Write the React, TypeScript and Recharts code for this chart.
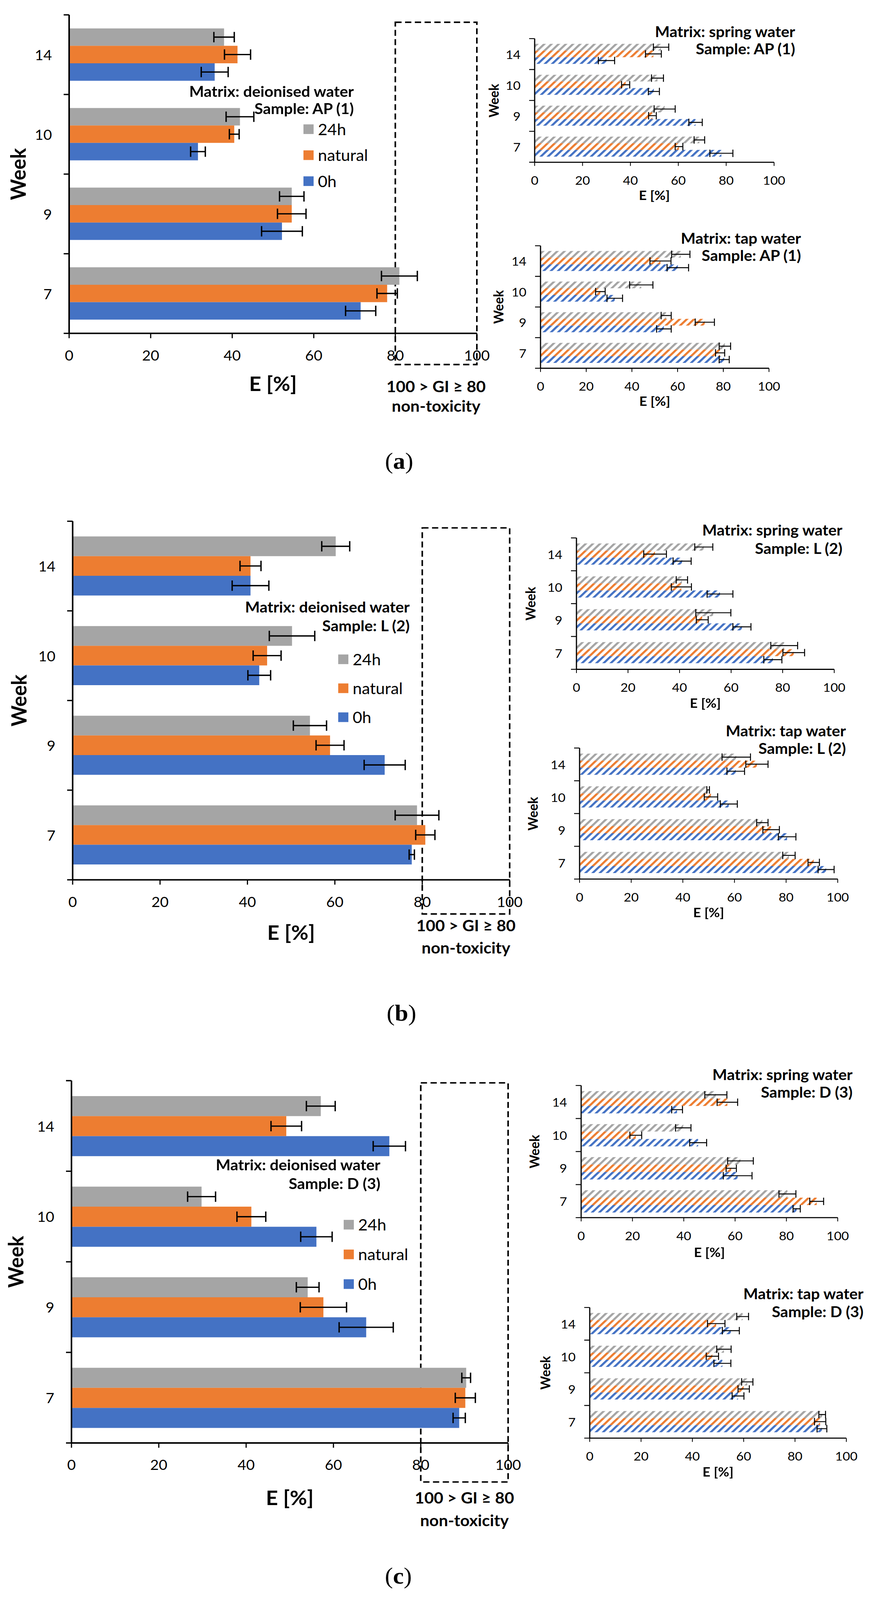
import React from 'react'
import { BarChart, Bar, XAxis, YAxis, ErrorBar, ReferenceArea, Legend } from 'recharts'

const WEEKS = ['14', '10', '9', '7']
const E_TICKS = [0, 20, 40, 60, 80, 100]
const SERIES_NAMES = ['24h', 'natural', '0h']

// (a) AP (1) — values per week 14, 10, 9, 7
const apDeion24 = [38, 41.9, 54.6, 81]
const apDeion24Err = [2.5, 3.4, 3, 4.4]
const apDeionNat = [41.3, 40.5, 54.6, 78]
const apDeionNatErr = [3.2, 1.2, 3.5, 2.5]
const apDeion0 = [35.7, 31.6, 52.2, 71.5]
const apDeion0Err = [3.3, 1.8, 5, 3.7]

const apSpring24 = [52.8, 51.3, 54.3, 68.8]
const apSpring24Err = [3.2, 2.5, 4.4, 2.2]
const apSpringNat = [49.6, 38, 49.2, 60.3]
const apSpringNatErr = [3.3, 1.7, 1.6, 1.6]
const apSpring0 = [30, 49.8, 67.2, 78]
const apSpring0Err = [3.4, 2.3, 2.8, 4.8]

const apTap24 = [61.4, 44.1, 55, 80.7]
const apTap24Err = [4, 5.1, 2.2, 2.5]
const apTapNat = [52.5, 26.2, 71.9, 78.6]
const apTapNatErr = [4.6, 2.1, 4.2, 2]
const apTap0 = [60.1, 32.5, 54, 80.4]
const apTap0Err = [4.7, 3.4, 3.2, 2.2]

// (b) L (2)
const lDeion24 = [60.2, 50.2, 54.3, 78.8]
const lDeion24Err = [3.2, 5.2, 3.8, 5]
const lDeionNat = [40.7, 44.5, 58.9, 80.7]
const lDeionNatErr = [2.4, 3.2, 3.2, 2.2]
const lDeion0 = [40.7, 42.7, 71.4, 77.6]
const lDeion0Err = [4.2, 2.6, 4.7, 0.6]

const lSpring24 = [49.4, 40.9, 53.1, 80.6]
const lSpring24Err = [3.5, 2.2, 6.8, 5.2]
const lSpringNat = [30.5, 40.7, 48.8, 84.3]
const lSpringNatErr = [4.4, 3.9, 2.3, 4.2]
const lSpring0 = [41, 55.7, 64.2, 76.2]
const lSpring0Err = [3.5, 5, 3.5, 3.5]

const lTap24 = [60.7, 49.8, 70.8, 81.1]
const lTap24Err = [5.5, 0.5, 2.2, 2.4]
const lTapNat = [68.7, 50.9, 74.2, 90.7]
const lTapNatErr = [4.3, 2.6, 3.2, 2.2]
const lTap0 = [60.5, 57.8, 80.4, 95.5]
const lTap0Err = [3.4, 3.3, 3.4, 3.1]

// (c) D (3)
const dDeion24 = [57.1, 29.8, 54.1, 90.4]
const dDeion24Err = [3.3, 3.2, 2.6, 1]
const dDeionNat = [49.2, 41.2, 57.7, 90.2]
const dDeionNatErr = [3.5, 3.3, 5.3, 2.3]
const dDeion0 = [72.8, 56.1, 67.5, 88.8]
const dDeion0Err = [3.7, 3.6, 6.2, 1.4]

const dSpring24 = [52.5, 39.8, 62.1, 80.4]
const dSpring24Err = [4.3, 3, 5, 3.3]
const dSpringNat = [57, 21.3, 58.5, 91.8]
const dSpringNatErr = [4, 2.3, 2, 2.7]
const dSpring0 = [37.4, 45.6, 61, 84]
const dSpring0Err = [2.1, 3.3, 5.6, 1.4]

const dTap24 = [59.6, 52.3, 61.4, 90.6]
const dTap24Err = [2.3, 2.8, 2.2, 1.3]
const dTapNat = [49.3, 47.8, 60, 89.8]
const dTapNatErr = [3.4, 2.4, 2.2, 2.2]
const dTap0 = [55, 51.7, 57.8, 90.5]
const dTap0Err = [3.3, 3.3, 2.3, 1.9]

const GRAY = '#A5A5A5'
const ORANGE = '#ED7D31'
const BLUE = '#4472C4'
const SANS = 'Lato, "Open Sans", sans-serif'
const PAGE_W = 2243
const PAGE_H = 4310

type Rect = { x0: number; x1: number; y0: number; y1: number }

function toRows(h24: number[], h24e: number[], nat: number[], nate: number[], h0: number[], h0e: number[]) {
  return WEEKS.map((week, i) => ({
    week,
    h24: h24[i], h24e: h24e[i],
    nat: nat[i], nate: nate[i],
    h0: h0[i], h0e: h0e[i],
  }))
}

type ChartProps = {
  rect: Rect
  rows: ReturnType<typeof toRows>
  big?: boolean
  box?: { top: number; bottom: number }
  legend?: { x: number; y: number; step: number }
}

function WeekChart({ rect, rows, big, box, legend }: ChartProps) {
  const AXW = big ? 140 : 110
  const MT = 20
  const MR = big ? 50 : 45
  const XH = big ? 100 : 80
  const MB = 10
  const left = rect.x0 - AXW
  const top = rect.y0 - MT
  const width = rect.x1 - rect.x0 + AXW + MR
  const height = rect.y1 - rect.y0 + MT + XH + MB
  const band = (rect.y1 - rect.y0) / WEEKS.length
  const tickLen = 14
  const labelGap = big ? 30 : 22
  const axisW = big ? 4 : 3
  const fontSize = big ? 38 : 33
  const fills = big
    ? [GRAY, ORANGE, BLUE]
    : ['url(#hatch-gray)', 'url(#hatch-orange)', 'url(#hatch-blue)']
  const capW = big ? 14 : 10
  const errW = big ? 3.5 : 2.5

  const yTick = (p: any) => {
    const ax = AXW
    const lines = [p.y - band / 2]
    if (p.index === WEEKS.length - 1) lines.push(p.y + band / 2)
    return (
      <g>
        {lines.map((ly, k) => (
          <line key={k} x1={ax - tickLen} x2={ax} y1={ly} y2={ly} stroke="#000" strokeWidth={axisW - 0.5} />
        ))}
        <text x={ax - tickLen - labelGap} y={p.y} textAnchor="end" dominantBaseline="central"
          fontSize={fontSize} fontFamily={SANS} fill="#000">
          {p.payload.value}
        </text>
      </g>
    )
  }

  const legendContent = (props: any) => {
    const items = [...(props.payload || [])].sort(
      (a: any, b: any) => SERIES_NAMES.indexOf(a.value) - SERIES_NAMES.indexOf(b.value))
    return (
      <div style={{ fontFamily: SANS, fontSize: 42, color: '#000' }}>
        {items.map((it: any) => (
          <div key={it.value} style={{ display: 'flex', alignItems: 'center', height: legend!.step }}>
            <span style={{ display: 'inline-block', width: 26, height: 26, background: it.color, marginRight: 11 }} />
            <span>{it.value}</span>
          </div>
        ))}
      </div>
    )
  }

  return (
    <div style={{ position: 'absolute', left, top }}>
      <BarChart layout="vertical" width={width} height={height} data={rows}
        margin={{ top: MT, right: MR, bottom: MB, left: 0 }} barCategoryGap="17%" barGap={0}>
        <XAxis type="number" domain={[0, 100]} ticks={E_TICKS} interval={0} height={XH}
          tickSize={big ? 13 : 10} tickMargin={big ? 33 : 27}
          axisLine={{ stroke: '#000', strokeWidth: axisW }}
          tickLine={{ stroke: '#000', strokeWidth: axisW - 1 }}
          tick={{ fill: '#000', fontSize, fontFamily: SANS }} />
        <YAxis type="category" dataKey="week" width={AXW} interval={0}
          tickSize={tickLen} tickMargin={labelGap} tickLine={false}
          axisLine={{ stroke: '#000', strokeWidth: axisW }} tick={yTick} />
        <Bar dataKey="h24" name="24h" fill={fills[0]} isAnimationActive={false}>
          <ErrorBar dataKey="h24e" direction="x" width={capW} stroke="#000" strokeWidth={errW} />
        </Bar>
        <Bar dataKey="nat" name="natural" fill={fills[1]} isAnimationActive={false}>
          <ErrorBar dataKey="nate" direction="x" width={capW} stroke="#000" strokeWidth={errW} />
        </Bar>
        <Bar dataKey="h0" name="0h" fill={fills[2]} isAnimationActive={false}>
          <ErrorBar dataKey="h0e" direction="x" width={capW} stroke="#000" strokeWidth={errW} />
        </Bar>
        {box && (
          <ReferenceArea x1={80} x2={100} ifOverflow="visible"
            shape={(p: any) => (
              <rect x={p.x} y={p.y + (box.top - rect.y0)} width={p.width}
                height={p.height + (box.bottom - rect.y1) - (box.top - rect.y0)}
                fill="none" stroke="#000" strokeWidth={4} strokeDasharray="16 9" />
            )} />
        )}
        {legend && (
          <Legend layout="vertical" align="center" verticalAlign="middle" content={legendContent}
            wrapperStyle={{ left: legend.x - left, top: legend.y - top, width: 320, height: 'auto' }} />
        )}
      </BarChart>
    </div>
  )
}

function RightText({ right, y, size, children }: { right: number; y: number; size: number; children: React.ReactNode }) {
  return (
    <div style={{ position: 'absolute', left: right - 1000, width: 1000, top: y - size * 0.6, lineHeight: `${size * 1.2}px`,
      textAlign: 'right', fontFamily: SANS, fontWeight: 700, fontSize: size, whiteSpace: 'nowrap', color: '#000' }}>
      {children}
    </div>
  )
}

function CenterText({ x, y, size, bold = true, family = SANS, children }: { x: number; y: number; size: number; bold?: boolean; family?: string; children: React.ReactNode }) {
  return (
    <div style={{ position: 'absolute', left: x - 500, width: 1000, top: y - size * 0.6, lineHeight: `${size * 1.2}px`,
      textAlign: 'center', fontFamily: family, fontWeight: bold ? 700 : 400, fontSize: size, whiteSpace: 'nowrap', color: '#000' }}>
      {children}
    </div>
  )
}

function VText({ x, y, size, children }: { x: number; y: number; size: number; children: React.ReactNode }) {
  return (
    <div style={{ position: 'absolute', left: x, top: y, transform: 'translate(-50%, -50%) rotate(-90deg)',
      fontFamily: SANS, fontWeight: 700, fontSize: size, lineHeight: 1, whiteSpace: 'nowrap', color: '#000' }}>
      {children}
    </div>
  )
}

type BigCfg = {
  rect: Rect; rows: ReturnType<typeof toRows>; box: { top: number; bottom: number }
  legend: { x: number; y: number; step: number }; sample: string
  titleRight: number; titleY: [number, number]; weekX: number; eY: number; giY: [number, number]
  tag: string; tagX: number; tagY: number
}

function BigPanel(c: BigCfg) {
  const cx = (c.rect.x0 + c.rect.x1) / 2
  const boxCx = c.rect.x0 + (c.rect.x1 - c.rect.x0) * 0.9
  return (
    <>
      <WeekChart rect={c.rect} rows={c.rows} big box={c.box} legend={c.legend} />
      <RightText right={c.titleRight} y={c.titleY[0]} size={40}>Matrix: deionised water</RightText>
      <RightText right={c.titleRight} y={c.titleY[1]} size={40}>{`Sample: ${c.sample}`}</RightText>
      <VText x={c.weekX} y={(c.rect.y0 + c.rect.y1) / 2} size={54}>Week</VText>
      <CenterText x={cx} y={c.eY} size={54}>E [%]</CenterText>
      <CenterText x={boxCx} y={c.giY[0]} size={42}>100 &gt; GI ≥ 80</CenterText>
      <CenterText x={boxCx} y={c.giY[1]} size={42}>non-toxicity</CenterText>
      <CenterText x={c.tagX} y={c.tagY} size={62} bold={false} family='"Liberation Serif", "DejaVu Serif", serif'>
        (<b>{c.tag}</b>)
      </CenterText>
    </>
  )
}

type SmallCfg = {
  rect: Rect; rows: ReturnType<typeof toRows>; matrix: string; sample: string
  titleRight: number; titleY: [number, number]; weekX: number; eY: number
}

function SmallPanel(c: SmallCfg) {
  return (
    <>
      <WeekChart rect={c.rect} rows={c.rows} />
      <RightText right={c.titleRight} y={c.titleY[0]} size={40}>{`Matrix: ${c.matrix}`}</RightText>
      <RightText right={c.titleRight} y={c.titleY[1]} size={40}>{`Sample: ${c.sample}`}</RightText>
      <VText x={c.weekX} y={(c.rect.y0 + c.rect.y1) / 2} size={35}>Week</VText>
      <CenterText x={(c.rect.x0 + c.rect.x1) / 2} y={c.eY} size={35}>E [%]</CenterText>
    </>
  )
}

function Hatch({ id, color }: { id: string; color: string }) {
  return (
    <pattern id={id} patternUnits="userSpaceOnUse" width={13} height={13} patternTransform="rotate(45)">
      <rect x={0} y={0} width={5.5} height={13} fill={color} />
    </pattern>
  )
}

export default function App() {
  // fit the figure into the visible window height if it is shorter than the figure
  const vh = typeof window !== 'undefined' && window.innerHeight > 0 ? window.innerHeight : PAGE_H
  const sy = Math.min(1, vh / PAGE_H)
  return (
    <div style={{ position: 'absolute', left: 0, top: 0, width: PAGE_W, height: PAGE_H * sy, overflow: 'hidden', background: '#fff' }}>
      <div style={{ position: 'absolute', left: 0, top: 0, width: PAGE_W, height: PAGE_H, background: '#fff',
        transform: `scale(1, ${sy})`, transformOrigin: '0 0' }}>
        <svg width={0} height={0} style={{ position: 'absolute' }}>
          <defs>
            <Hatch id="hatch-gray" color={GRAY} />
            <Hatch id="hatch-orange" color={ORANGE} />
            <Hatch id="hatch-blue" color={BLUE} />
          </defs>
        </svg>

        <BigPanel rect={{ x0: 177, x1: 1221, y0: 40, y1: 898 }}
          rows={toRows(apDeion24, apDeion24Err, apDeionNat, apDeionNatErr, apDeion0, apDeion0Err)}
          box={{ top: 60, bottom: 982 }} legend={{ x: 777, y: 313, step: 70 }} sample="AP (1)"
          titleRight={906} titleY={[246, 292]} weekX={46} eY={1033} giY={[1040, 1093]}
          tag="a" tagX={1022} tagY={1242} />
        <SmallPanel rect={{ x0: 1369, x1: 1982, y0: 104, y1: 437 }}
          rows={toRows(apSpring24, apSpring24Err, apSpringNat, apSpringNatErr, apSpring0, apSpring0Err)}
          matrix="spring water" sample="AP (1)" titleRight={2036} titleY={[85, 131]} weekX={1263} eY={525} />
        <SmallPanel rect={{ x0: 1384, x1: 1969, y0: 662, y1: 992 }}
          rows={toRows(apTap24, apTap24Err, apTapNat, apTapNatErr, apTap0, apTap0Err)}
          matrix="tap water" sample="AP (1)" titleRight={2051} titleY={[642, 688]} weekX={1275} eY={1079} />

        <BigPanel rect={{ x0: 186, x1: 1305, y0: 1404, y1: 2370 }}
          rows={toRows(lDeion24, lDeion24Err, lDeionNat, lDeionNatErr, lDeion0, lDeion0Err)}
          box={{ top: 1422, bottom: 2462 }} legend={{ x: 866, y: 1737, step: 78 }} sample="L (2)"
          titleRight={1049} titleY={[1635, 1685]} weekX={48} eY={2512} giY={[2493, 2553]}
          tag="b" tagX={1028} tagY={2728} />
        <SmallPanel rect={{ x0: 1476, x1: 2136, y0: 1449, y1: 1803 }}
          rows={toRows(lSpring24, lSpring24Err, lSpringNat, lSpringNatErr, lSpring0, lSpring0Err)}
          matrix="spring water" sample="L (2)" titleRight={2157} titleY={[1428, 1477]} weekX={1357} eY={1893} />
        <SmallPanel rect={{ x0: 1484, x1: 2145, y0: 2015, y1: 2368 }}
          rows={toRows(lTap24, lTap24Err, lTapNat, lTapNatErr, lTap0, lTap0Err)}
          matrix="tap water" sample="L (2)" titleRight={2166} titleY={[1969, 2016]} weekX={1363} eY={2457} />

        <BigPanel rect={{ x0: 183, x1: 1301, y0: 2911, y1: 3887 }}
          rows={toRows(dDeion24, dDeion24Err, dDeionNat, dDeionNatErr, dDeion0, dDeion0Err)}
          box={{ top: 2917, bottom: 3992 }} legend={{ x: 880, y: 3259, step: 80 }} sample="D (3)"
          titleRight={974} titleY={[3138, 3188]} weekX={40} eY={4034} giY={[4034, 4095]}
          tag="c" tagX={1020} tagY={4245} />
        <SmallPanel rect={{ x0: 1488, x1: 2145, y0: 2924, y1: 3280 }}
          rows={toRows(dSpring24, dSpring24Err, dSpringNat, dSpringNatErr, dSpring0, dSpring0Err)}
          matrix="spring water" sample="D (3)" titleRight={2183} titleY={[2894, 2942]} weekX={1367} eY={3372} />
        <SmallPanel rect={{ x0: 1510, x1: 2167, y0: 3522, y1: 3874 }}
          rows={toRows(dTap24, dTap24Err, dTapNat, dTapNatErr, dTap0, dTap0Err)}
          matrix="tap water" sample="D (3)" titleRight={2211} titleY={[3485, 3533]} weekX={1395} eY={3963} />
      </div>
    </div>
  )
}
